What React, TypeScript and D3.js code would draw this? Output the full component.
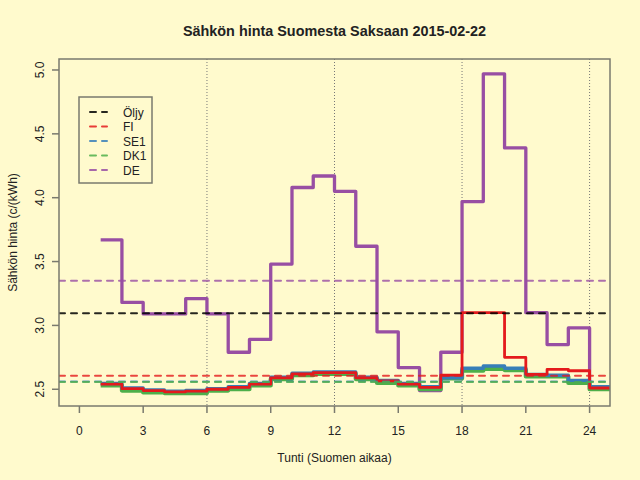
import { useEffect, useRef } from 'react';
import * as d3 from 'd3';

// hourly prices c/kWh, hour 1..24
const hours = d3.range(1, 25);
const fi = [2.54, 2.505, 2.49, 2.48, 2.485, 2.5, 2.515, 2.54, 2.59, 2.62, 2.63, 2.63, 2.59, 2.565, 2.54, 2.515, 2.61, 3.1, 3.1, 2.75, 2.617, 2.656, 2.645, 2.51];
const se1 = [2.545, 2.51, 2.495, 2.485, 2.49, 2.505, 2.52, 2.545, 2.595, 2.625, 2.635, 2.635, 2.595, 2.57, 2.545, 2.52, 2.59, 2.664, 2.682, 2.664, 2.617, 2.61, 2.57, 2.52];
const dk1 = [2.53, 2.49, 2.475, 2.47, 2.47, 2.49, 2.5, 2.53, 2.58, 2.61, 2.62, 2.62, 2.58, 2.55, 2.53, 2.5, 2.585, 2.645, 2.66, 2.65, 2.6, 2.6, 2.55, 2.5];
const de = [3.67, 3.18, 3.09, 3.09, 3.21, 3.09, 2.79, 2.89, 3.48, 4.08, 4.17, 4.05, 3.62, 2.95, 2.67, 2.49, 2.79, 3.97, 4.97, 4.39, 3.1, 2.85, 2.98, 2.5];

// reference levels (dashed)
const oljy = 3.095;
const fiMean = 2.606;
const se1Mean = 2.56;
const dk1Mean = 2.557;
const deMean = 3.35;

const xTicks = [0, 3, 6, 9, 12, 15, 18, 21, 24];
const yTicks = [2.5, 3.0, 3.5, 4.0, 4.5, 5.0];
const vLines = [6, 12, 18, 24];

const legendNames = ['Öljy', 'FI', 'SE1', 'DK1', 'DE'];
const legendColors = ['#000000', '#E41A1C', '#377EB8', '#4DAF4A', '#984EA3'];

export default function App() {
  const svgRef = useRef<SVGSVGElement>(null);
  const width = 640;
  const height = 480;

  useEffect(() => {
    const svg = d3.select(svgRef.current);
    svg.selectAll('*').remove();

    const margin = { top: 59, right: 30, bottom: 74, left: 59 };
    const innerWidth = width - margin.left - margin.right;
    const innerHeight = height - margin.top - margin.bottom;
    const font = '"Liberation Sans", Arial, Helvetica, sans-serif';
    const axisColor = '#7a7a6e';

    svg.append('rect')
      .attr('width', width)
      .attr('height', height)
      .attr('fill', '#FFFACD');

    const xScale = d3.scaleLinear().domain([-0.96, 24.96]).range([0, innerWidth]);
    const yScale = d3.scaleLinear().domain([2.369, 5.086]).range([innerHeight, 0]);

    svg.append('defs').append('clipPath')
      .attr('id', 'plot-clip')
      .append('rect')
      .attr('width', innerWidth)
      .attr('height', innerHeight);

    const g = svg.append('g')
      .attr('transform', `translate(${margin.left},${margin.top})`);

    const plot = g.append('g').attr('clip-path', 'url(#plot-clip)');

    // dotted guides
    plot.selectAll('.vline')
      .data(vLines)
      .enter().append('line')
      .attr('x1', d => xScale(d))
      .attr('x2', d => xScale(d))
      .attr('y1', 0)
      .attr('y2', innerHeight)
      .attr('stroke', '#777')
      .attr('stroke-width', 1)
      .attr('stroke-dasharray', '1,2');

    // step lines
    const step = d3.line<[number, number]>()
      .x(d => xScale(d[0]))
      .y(d => yScale(d[1]))
      .curve(d3.curveStepAfter);

    const series = [
      { values: de, color: '#984EA3', w: 3.3 },
      { values: dk1, color: '#4DAF4A', w: 4.2 },
      { values: se1, color: '#377EB8', w: 3.4 },
      { values: fi, color: '#E41A1C', w: 2.8 },
    ];

    series.forEach(s => {
      const pts: [number, number][] = hours.map((h, i) => [h, s.values[i]]);
      pts.push([25, s.values[s.values.length - 1]]);
      plot.append('path')
        .datum(pts)
        .attr('fill', 'none')
        .attr('stroke', s.color)
        .attr('stroke-width', s.w)
        .attr('stroke-linejoin', 'round')
        .attr('d', step);
    });

    // dashed levels
    const levels = [
      { v: oljy, color: '#000000' },
      { v: fiMean, color: '#E41A1C' },
      { v: se1Mean, color: '#377EB8' },
      { v: dk1Mean, color: '#4DAF4A' },
      { v: deMean, color: '#984EA3' },
    ];
    plot.selectAll('.level')
      .data(levels)
      .enter().append('line')
      .attr('x1', 0)
      .attr('x2', innerWidth)
      .attr('y1', d => yScale(d.v))
      .attr('y2', d => yScale(d.v))
      .attr('stroke', d => d.color)
      .attr('stroke-opacity', d => d.color === '#000000' ? 0.85 : 0.8)
      .attr('stroke-width', 2)
      .attr('stroke-linecap', 'round')
      .attr('stroke-dasharray', '6,6');

    // box
    g.append('rect')
      .attr('width', innerWidth)
      .attr('height', innerHeight)
      .attr('fill', 'none')
      .attr('stroke', axisColor)
      .attr('stroke-width', 1.5);

    // x axis
    const xAxis = g.append('g').attr('transform', `translate(0,${innerHeight})`);
    xTicks.forEach(t => {
      xAxis.append('line')
        .attr('x1', xScale(t)).attr('x2', xScale(t))
        .attr('y1', 0).attr('y2', 7)
        .attr('stroke', axisColor).attr('stroke-width', 1.5);
      xAxis.append('text')
        .attr('x', xScale(t))
        .attr('y', 29)
        .attr('text-anchor', 'middle')
        .style('font-family', font)
        .style('font-size', '12px')
        .style('fill', '#222')
        .text(String(t));
    });

    // y axis
    const yAxis = g.append('g');
    yTicks.forEach(t => {
      yAxis.append('line')
        .attr('x1', 0).attr('x2', -7)
        .attr('y1', yScale(t)).attr('y2', yScale(t))
        .attr('stroke', axisColor).attr('stroke-width', 1.5);
      yAxis.append('text')
        .attr('transform', `translate(-15,${yScale(t)}) rotate(-90)`)
        .attr('text-anchor', 'middle')
        .style('font-family', font)
        .style('font-size', '12px')
        .style('fill', '#222')
        .text(t.toFixed(1));
    });

    // titles
    svg.append('text')
      .attr('x', margin.left + innerWidth / 2)
      .attr('y', 36)
      .attr('text-anchor', 'middle')
      .style('font-family', font)
      .style('font-size', '14.4px')
      .style('font-weight', 'bold')
      .style('fill', '#222')
      .text('Sähkön hinta Suomesta Saksaan 2015-02-22');

    svg.append('text')
      .attr('x', margin.left + innerWidth / 2)
      .attr('y', 462)
      .attr('text-anchor', 'middle')
      .style('font-family', font)
      .style('font-size', '12px')
      .style('fill', '#222')
      .text('Tunti (Suomen aikaa)');

    svg.append('text')
      .attr('transform', `translate(17,${margin.top + innerHeight / 2}) rotate(-90)`)
      .attr('text-anchor', 'middle')
      .style('font-family', font)
      .style('font-size', '12px')
      .style('fill', '#222')
      .text('Sähkön hinta (c/(kWh)');

    // legend
    const legend = svg.append('g').attr('transform', 'translate(79,97)');
    legend.append('rect')
      .attr('width', 73)
      .attr('height', 86)
      .attr('fill', 'none')
      .attr('stroke', axisColor)
      .attr('stroke-width', 1.5);
    legendNames.forEach((name, i) => {
      const y = 15 + i * 14.5;
      legend.append('line')
        .attr('x1', 11).attr('x2', 28)
        .attr('y1', y).attr('y2', y)
        .attr('stroke', legendColors[i])
        .attr('stroke-width', 2)
        .attr('stroke-linecap', 'round')
        .attr('stroke-dasharray', '6,6')
        .attr('stroke-opacity', 0.85);
      legend.append('text')
        .attr('x', 44)
        .attr('y', y + 4.5)
        .style('font-family', font)
        .style('font-size', '12px')
        .style('fill', '#222')
        .text(name);
    });
  }, []);

  return (
    <svg
      ref={svgRef}
      width={width}
      height={height}
      style={{ position: 'absolute', left: 0, top: 0, display: 'block' }}
    />
  );
}
